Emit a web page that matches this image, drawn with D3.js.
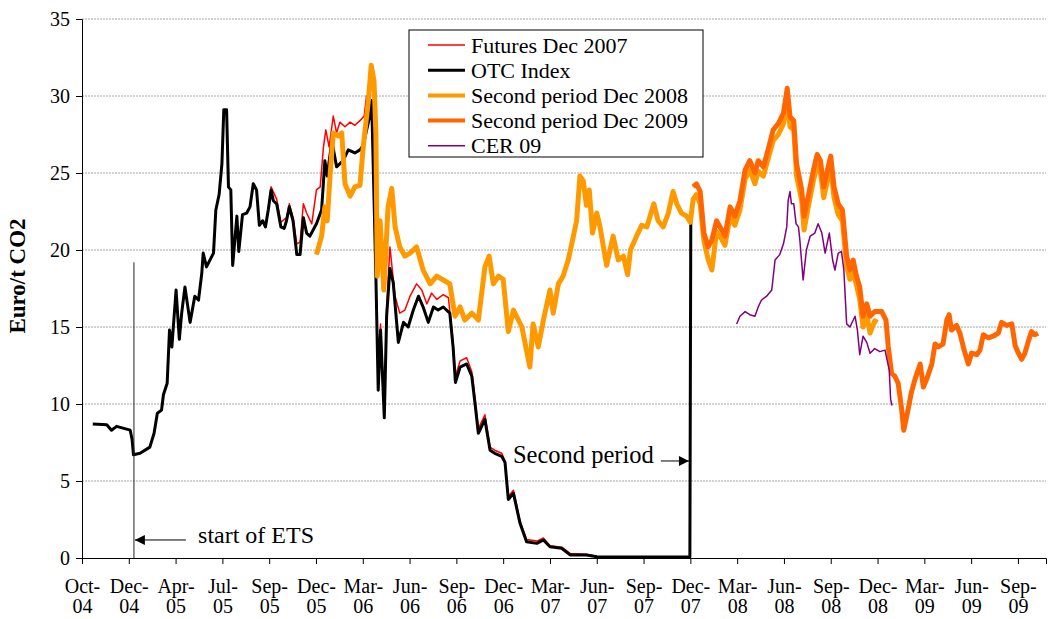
<!DOCTYPE html>
<html>
<head>
<meta charset="utf-8">
<script src="https://cdn.jsdelivr.net/npm/d3@7"></script>
<style>
body { margin: 0; background: #fff; }
svg { display: block; }
</style>
</head>
<body>
<svg width="1052" height="619"></svg>
<script>
// x positions are in axis-label units (0 = Oct-04, 1 = Dec-04, ...)
var tickLabels = ["Oct-04","Dec-04","Apr-05","Jul-05","Sep-05","Dec-05","Mar-06","Jun-06","Sep-06","Dec-06",
  "Mar-07","Jun-07","Sep-07","Dec-07","Mar-08","Jun-08","Sep-08","Dec-08","Mar-09","Jun-09","Sep-09"];
var yTicks = [0,5,10,15,20,25,30,35];

var futures07 = [[3.98,22.6],[4.04,24.1],[4.16,23.3],[4.25,21.8],[4.37,22.1],[4.43,23.0],[4.51,22.1],[4.59,20.4],
  [4.66,20.5],[4.73,23.0],[4.80,22.4],[4.91,21.7],[5.01,23.9],[5.09,24.1],[5.16,26.7],[5.21,27.8],[5.28,26.7],
  [5.37,28.7],[5.44,27.6],[5.51,28.3],[5.62,28.0],[5.73,28.3],[5.83,28.1],[5.94,28.4],[6.03,28.7],[6.08,30.0],
  [6.19,29.7],[6.28,18.6],[6.33,11.5],[6.38,15.2],[6.46,9.5],[6.51,16.2],[6.58,20.2],[6.69,17.0],[6.79,15.9],
  [6.90,16.1],[7.01,17.0],[7.15,17.8],[7.26,17.4],[7.37,16.5],[7.47,17.2],[7.58,16.8],[7.72,17.1],[7.83,16.9],
  [7.93,14.0],[7.98,11.8],[8.08,12.8],[8.22,13.0],[8.33,12.1],[8.40,10.3],[8.47,8.4],[8.61,9.3],[8.72,7.2],
  [8.82,7.0],[8.97,6.8],[9.04,6.3],[9.11,4.0],[9.22,4.4],[9.36,2.4],[9.50,1.2],[9.72,1.1],[9.86,1.3],[10.00,0.8],
  [10.25,0.7],[10.43,0.3],[10.78,0.25],[11.00,0.1],[12.99,0.08]];

var otcIndex = [[0.23,8.7],[0.53,8.65],[0.63,8.3],[0.74,8.55],[1.03,8.3],[1.07,7.7],[1.10,6.7],[1.24,6.8],[1.45,7.2],
  [1.54,8.1],[1.61,9.4],[1.70,9.6],[1.74,10.6],[1.82,11.35],[1.87,14.8],[1.92,13.7],[2.01,17.4],[2.08,14.2],
  [2.13,15.9],[2.20,17.6],[2.31,15.3],[2.41,17.0],[2.49,16.75],[2.56,18.5],[2.59,19.8],[2.66,18.9],[2.81,19.8],
  [2.86,22.6],[2.93,23.6],[2.99,25.6],[3.03,29.1],[3.09,29.1],[3.13,24.1],[3.18,23.9],[3.22,19.0],[3.31,22.2],
  [3.35,19.9],[3.43,22.3],[3.52,22.4],[3.59,22.8],[3.66,24.3],[3.73,23.9],[3.79,21.6],[3.86,21.9],[3.92,21.5],
  [3.98,22.6],[4.04,23.9],[4.09,23.2],[4.16,23.0],[4.25,21.5],[4.32,21.4],[4.37,21.9],[4.43,22.8],[4.51,21.9],
  [4.59,19.7],[4.66,19.7],[4.73,22.1],[4.80,21.1],[4.87,20.9],[5.01,21.7],[5.12,22.6],[5.19,25.8],[5.24,24.8],
  [5.34,27.1],[5.44,25.4],[5.58,25.8],[5.69,26.5],[5.83,26.3],[5.94,26.5],[6.01,26.8],[6.15,28.7],[6.19,29.7],
  [6.28,18.3],[6.33,10.9],[6.38,14.8],[6.46,9.1],[6.51,15.7],[6.58,18.8],[6.65,17.9],[6.76,14.0],[6.87,15.3],
  [6.97,15.0],[7.08,16.1],[7.19,17.0],[7.29,16.3],[7.40,15.3],[7.51,16.3],[7.61,16.1],[7.72,16.3],[7.86,15.9],
  [7.93,13.7],[7.98,11.4],[8.08,12.4],[8.22,12.6],[8.33,11.8],[8.40,10.0],[8.47,8.1],[8.61,9.0],[8.72,7.0],
  [8.82,6.8],[8.97,6.6],[9.04,6.2],[9.11,3.8],[9.22,4.2],[9.36,2.25],[9.50,1.06],[9.72,0.95],[9.86,1.17],
  [10.00,0.73],[10.25,0.63],[10.43,0.2],[10.78,0.2],[11.00,0.08],[12.14,0.06],[12.99,0.06],[13.01,22.5]];

var period2Dec08 = [[5.01,19.7],[5.12,20.9],[5.19,22.8],[5.24,21.9],[5.30,24.8],[5.37,27.6],[5.48,27.4],[5.55,27.6],
  [5.62,24.3],[5.73,23.5],[5.83,24.1],[5.94,24.2],[6.01,26.7],[6.12,29.7],[6.18,32.0],[6.24,31.0],[6.28,27.6],
  [6.31,18.3],[6.37,21.9],[6.45,17.4],[6.54,22.8],[6.62,24.0],[6.69,21.5],[6.79,20.2],[6.90,19.6],[7.01,19.8],
  [7.15,20.2],[7.29,18.7],[7.44,17.8],[7.58,18.3],[7.72,18.05],[7.86,17.8],[7.97,15.7],[8.08,16.3],[8.18,15.45],
  [8.33,15.9],[8.47,15.45],[8.61,18.9],[8.70,19.6],[8.79,17.8],[8.90,18.3],[9.00,18.1],[9.11,14.7],[9.22,16.1],
  [9.40,15.0],[9.57,12.4],[9.64,15.2],[9.75,13.7],[9.86,15.45],[10.00,17.4],[10.07,15.9],[10.18,17.8],[10.28,18.3],
  [10.39,19.35],[10.48,20.6],[10.57,21.9],[10.64,24.8],[10.71,24.5],[10.78,22.9],[10.84,23.9],[10.91,21.1],
  [11.00,22.4],[11.07,21.5],[11.21,19.0],[11.35,20.9],[11.46,19.35],[11.57,19.6],[11.66,18.4],[11.72,20.0],
  [11.85,20.9],[11.96,21.6],[12.07,21.5],[12.22,23.0],[12.31,21.9],[12.42,21.5],[12.53,22.4],[12.63,23.8],
  [12.71,23.0],[12.81,22.4],[12.92,22.2],[13.00,21.8],[13.06,23.3],[13.13,23.6],[13.21,23.0],[13.29,20.6],
  [13.38,19.4],[13.46,18.7],[13.56,21.2],[13.67,20.7],[13.74,20.3],[13.85,22.2],[13.95,21.6],[14.06,22.6],
  [14.17,24.6],[14.27,25.2],[14.38,24.3],[14.45,25.1],[14.56,24.8],[14.66,25.9],[14.77,27.1],[14.88,27.5],
  [14.99,28.2],[15.07,29.7],[15.13,28.0],[15.21,27.8],[15.27,24.8],[15.38,23.2],[15.43,21.3],[15.52,22.8],
  [15.63,24.5],[15.71,25.5],[15.78,25.1],[15.85,23.4],[15.93,24.5],[16.00,25.4],[16.07,23.4],[16.16,22.3],
  [16.25,21.9],[16.34,18.9],[16.41,18.1],[16.48,18.6],[16.55,17.7],[16.62,16.8],[16.69,15.0],[16.77,15.8],
  [16.84,14.6],[16.94,15.4],[17.00,15.3]];

var period2Dec09 = [[13.06,24.1],[13.13,24.3],[13.21,23.8],[13.29,21.1],[13.38,20.2],[13.46,20.65],[13.56,21.9],
  [13.67,21.3],[13.74,20.9],[13.85,22.8],[13.95,22.2],[14.06,23.2],[14.17,25.2],[14.27,25.8],[14.38,25.0],
  [14.45,25.8],[14.56,25.4],[14.66,26.5],[14.77,27.8],[14.88,28.2],[14.99,28.9],[15.07,30.5],[15.13,28.65],
  [15.21,28.4],[15.27,25.6],[15.38,23.9],[15.43,22.2],[15.52,23.5],[15.63,25.2],[15.71,26.2],[15.78,25.8],
  [15.85,24.1],[15.93,25.2],[16.00,26.1],[16.07,24.1],[16.16,23.0],[16.25,22.6],[16.34,19.6],[16.41,18.7],
  [16.48,19.35],[16.55,18.3],[16.62,17.6],[16.69,15.7],[16.77,16.5],[16.84,15.7],[16.94,16.0],[17.09,16.0],
  [17.18,15.45],[17.23,13.7],[17.30,12.0],[17.37,11.8],[17.44,11.35],[17.51,9.8],[17.56,8.3],[17.65,9.6],
  [17.72,10.7],[17.80,11.6],[17.91,12.6],[17.98,11.1],[18.05,11.6],[18.16,12.6],[18.23,13.9],[18.30,13.7],
  [18.40,13.9],[18.48,15.45],[18.53,15.8],[18.58,14.8],[18.69,15.1],[18.76,14.6],[18.85,13.5],[18.94,12.6],
  [19.01,13.3],[19.12,13.2],[19.19,13.5],[19.26,14.5],[19.37,14.3],[19.47,14.4],[19.58,14.6],[19.65,15.3],
  [19.76,15.1],[19.87,15.2],[19.94,13.8],[20.01,13.3],[20.08,12.9],[20.15,13.3],[20.22,14.05],[20.29,14.7],
  [20.36,14.5],[20.43,14.6]];

var cer09 = [[13.99,15.2],[14.06,15.7],[14.17,16.0],[14.27,15.8],[14.38,15.7],[14.45,16.3],[14.52,16.75],
  [14.63,17.0],[14.74,17.4],[14.81,19.35],[14.91,19.7],[14.99,20.4],[15.06,21.5],[15.09,23.2],[15.13,23.8],
  [15.16,23.0],[15.21,23.0],[15.26,21.7],[15.31,21.5],[15.34,20.65],[15.41,18.05],[15.48,20.0],[15.56,20.9],
  [15.66,21.1],[15.73,21.7],[15.81,21.1],[15.88,19.8],[15.97,21.1],[16.04,19.35],[16.09,18.7],[16.16,19.8],
  [16.23,19.9],[16.28,18.7],[16.34,15.2],[16.41,15.0],[16.52,15.7],[16.57,14.8],[16.62,13.2],[16.69,14.4],
  [16.77,14.0],[16.84,13.3],[16.94,13.6],[17.05,13.4],[17.16,13.5],[17.25,12.2],[17.28,10.3],[17.31,9.9]];

var seriesNames = ["Futures Dec 2007","OTC Index","Second period Dec 2008","Second period Dec 2009","CER 09"];
var seriesColors = ["#ff0000","#000000","#ff9900","#ff6600","#800080"];
var seriesWidths = [1.5, 3, 5, 5, 1.5];
var seriesData = [futures07, otcIndex, period2Dec08, period2Dec09, cer09];

var serif = "'Liberation Serif', 'Times New Roman', Times, serif";
var svg = d3.select("svg");
var x = d3.scaleLinear().domain([0, 20.6]).range([82, 1046]);
var y = d3.scaleLinear().domain([0, 35]).range([558, 19]);

// gridlines
svg.append("g").selectAll("line")
  .data(yTicks.filter(function(d){ return d > 0; }))
  .enter().append("line")
  .attr("x1", x(0)).attr("x2", x(20.6))
  .attr("y1", function(d){ return y(d); }).attr("y2", function(d){ return y(d); })
  .attr("stroke", "#a6a6a6").attr("stroke-width", 1).attr("stroke-dasharray", "2,1");

var line = d3.line().x(function(d){ return x(d[0]); }).y(function(d){ return y(d[1]); });

svg.append("g").selectAll("path")
  .data(seriesData)
  .enter().append("path")
  .attr("d", line)
  .attr("fill", "none")
  .attr("stroke", function(d, i){ return seriesColors[i]; })
  .attr("stroke-width", function(d, i){ return seriesWidths[i]; })
  .attr("stroke-linejoin", "round");

// annotations
var defs = svg.append("defs");
defs.append("marker").attr("id", "arr").attr("viewBox", "0 0 10 10")
  .attr("refX", 10).attr("refY", 5).attr("markerWidth", 11).attr("markerHeight", 10)
  .attr("markerUnits", "userSpaceOnUse").attr("orient", "auto")
  .append("path").attr("d", "M0,0 L10,5 L0,10 z").attr("fill", "#000");

svg.append("line")
  .attr("x1", x(1.11)).attr("x2", x(1.11)).attr("y1", y(0)).attr("y2", y(19.2))
  .attr("stroke", "#222").attr("stroke-width", 1);
svg.append("line")
  .attr("x1", x(2.22)).attr("x2", x(1.13)).attr("y1", y(1.17)).attr("y2", y(1.17))
  .attr("stroke", "#000").attr("stroke-width", 1).attr("marker-end", "url(#arr)");
svg.append("text").attr("x", x(2.48)).attr("y", y(0.97))
  .attr("font-size", "24px").text("start of ETS");

svg.append("line")
  .attr("x1", x(12.37)).attr("x2", x(12.97)).attr("y1", y(6.3)).attr("y2", y(6.3))
  .attr("stroke", "#000").attr("stroke-width", 1).attr("marker-end", "url(#arr)");
svg.append("text").attr("x", x(9.21)).attr("y", y(6.15))
  .attr("font-size", "24.5px").text("Second period");

// axes
var xAxis = svg.append("g").attr("transform", "translate(0," + y(0) + ")")
  .call(d3.axisBottom(x).tickValues(d3.range(tickLabels.length)).tickSize(6).tickFormat(""));
xAxis.select(".domain").attr("stroke", "#000");
xAxis.selectAll(".tick line").attr("stroke", "#000");
xAxis.selectAll(".tick").each(function(d){
  var parts = tickLabels[d].split("-");
  var t = d3.select(this).append("text").attr("text-anchor", "middle").attr("font-size", "20px").attr("fill", "#000");
  t.append("tspan").attr("x", 0).attr("y", 35).text(parts[0] + "-");
  t.append("tspan").attr("x", 0).attr("y", 55).text(parts[1]);
});

var yAxis = svg.append("g").attr("transform", "translate(" + x(0) + ",0)")
  .call(d3.axisLeft(y).tickValues(yTicks).tickSize(6).tickPadding(6));
yAxis.select(".domain").attr("stroke", "#000");
yAxis.selectAll(".tick line").attr("stroke", "#000");
yAxis.selectAll(".tick text").attr("font-size", "20px").attr("fill", "#000");

svg.append("text")
  .attr("transform", "translate(25,276) rotate(-90)")
  .attr("text-anchor", "middle").attr("font-size", "23px").attr("font-weight", "bold")
  .text("Euro/t CO2");

// legend
var legend = svg.append("g").attr("transform", "translate(409,30)");
legend.append("rect").attr("width", 294).attr("height", 127)
  .attr("fill", "#fff").attr("stroke", "#000").attr("stroke-width", 1);
var items = legend.selectAll("g.item").data(seriesNames).enter().append("g")
  .attr("class", "item")
  .attr("transform", function(d, i){ return "translate(0," + (15 + i * 25.2) + ")"; });
items.append("line").attr("x1", 19).attr("x2", 56).attr("y1", 0).attr("y2", 0)
  .attr("stroke", function(d, i){ return seriesColors[i]; })
  .attr("stroke-width", function(d, i){ return Math.min(seriesWidths[i], 4); });
items.append("text").attr("x", 62).attr("y", 7.5).attr("font-size", "22px").text(function(d){ return d; });

svg.selectAll("text").style("font-family", serif).style("fill", "#000");
</script>
</body>
</html>
